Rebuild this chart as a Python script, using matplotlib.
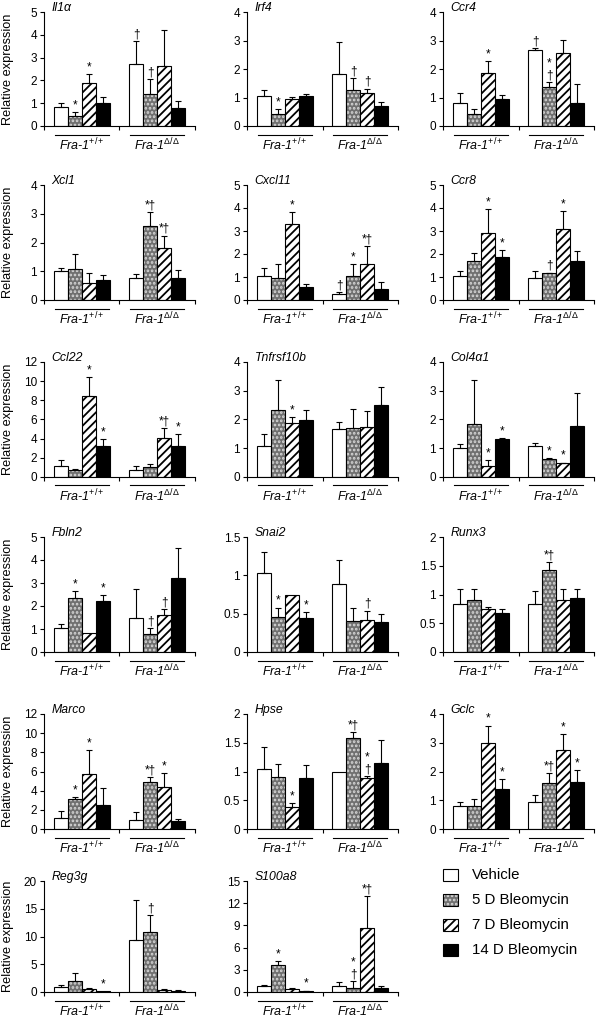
import matplotlib.pyplot as plt
from matplotlib.patches import Rectangle
import numpy as np

plt.rcParams['font.family'] = ['Liberation Sans', 'DejaVu Sans']
plt.rcParams['mathtext.fontset'] = 'custom'
plt.rcParams['mathtext.rm'] = 'Liberation Sans'
plt.rcParams['mathtext.it'] = 'Liberation Sans:italic'
plt.rcParams['hatch.linewidth'] = 1.3

genes = ['Il1α', 'Irf4', 'Ccr4', 'Xcl1', 'Cxcl11', 'Ccr8', 'Ccl22', 'Tnfrsf10b', 'Col4α1',
         'Fbln2', 'Snai2', 'Runx3', 'Marco', 'Hpse', 'Gclc', 'Reg3g', 'S100a8']
y_max = [5, 4, 4, 4, 5, 5, 12, 4, 4, 5, 1.5, 2, 12, 2, 4, 20, 15]
y_step = [1, 1, 1, 1, 1, 1, 2, 1, 1, 1, 0.5, 0.5, 2, 0.5, 1, 5, 3]
groups = [r'Fra-1$^{+/+}$', r'Fra-1$^{\Delta/\Delta}$']
treatments = ['Vehicle', '5 D Bleomycin', '7 D Bleomycin', '14 D Bleomycin']

# each row: Fra-1+/+ (Veh, 5D, 7D, 14D) then Fra-1Δ/Δ (Veh, 5D, 7D, 14D)
means = [
    [0.84, 0.45, 1.90, 0.99, 2.72, 1.42, 2.61, 0.81],
    [1.04, 0.42, 0.93, 1.04, 1.81, 1.28, 1.17, 0.70],
    [0.81, 0.43, 1.87, 0.96, 2.68, 1.37, 2.56, 0.81],
    [1.02, 1.07, 0.60, 0.70, 0.75, 2.57, 1.80, 0.75],
    [1.04, 0.94, 3.29, 0.58, 0.25, 1.04, 1.55, 0.48],
    [1.04, 1.71, 2.90, 1.88, 0.97, 1.16, 3.07, 1.71],
    [1.12, 0.70, 8.42, 3.26, 0.70, 1.05, 4.04, 3.26],
    [1.08, 2.32, 1.87, 1.99, 1.67, 1.70, 1.73, 2.51],
    [1.02, 1.84, 0.39, 1.31, 1.09, 0.62, 0.47, 1.78],
    [1.03, 2.36, 0.84, 2.21, 1.49, 0.79, 1.62, 3.22],
    [1.03, 0.46, 0.74, 0.45, 0.89, 0.41, 0.42, 0.39],
    [0.83, 0.90, 0.74, 0.67, 0.84, 1.42, 0.90, 0.94],
    [1.10, 3.10, 5.70, 2.50, 0.90, 4.90, 4.40, 0.80],
    [1.05, 0.90, 0.38, 0.88, 1.00, 1.58, 0.88, 1.15],
    [0.80, 0.80, 3.00, 1.40, 0.95, 1.60, 2.75, 1.65],
    [0.90, 2.00, 0.50, 0.10, 9.30, 10.9, 0.40, 0.20],
    [0.80, 3.60, 0.40, 0.15, 0.80, 0.50, 8.60, 0.50],
]
errors = [
    [0.17, 0.17, 0.36, 0.29, 1.02, 0.65, 1.61, 0.28],
    [0.24, 0.17, 0.09, 0.10, 1.15, 0.40, 0.14, 0.15],
    [0.35, 0.17, 0.40, 0.14, 0.04, 0.17, 0.47, 0.67],
    [0.08, 0.52, 0.33, 0.17, 0.14, 0.48, 0.44, 0.29],
    [0.37, 0.63, 0.55, 0.10, 0.11, 0.53, 0.80, 0.32],
    [0.24, 0.32, 1.04, 0.29, 0.29, 0.03, 0.80, 0.43],
    [0.70, 0.18, 2.00, 0.70, 0.42, 0.35, 1.05, 1.23],
    [0.41, 1.07, 0.21, 0.35, 0.24, 0.66, 0.55, 0.61],
    [0.13, 1.55, 0.19, 0.04, 0.10, 0.05, 0.03, 1.14],
    [0.20, 0.28, 0.00, 0.25, 1.23, 0.26, 0.23, 1.30],
    [0.27, 0.12, 0.00, 0.07, 0.31, 0.17, 0.12, 0.10],
    [0.27, 0.19, 0.05, 0.08, 0.22, 0.14, 0.19, 0.16],
    [0.80, 0.20, 2.50, 1.80, 0.90, 0.50, 1.40, 0.20],
    [0.37, 0.23, 0.07, 0.24, 0.00, 0.10, 0.04, 0.40],
    [0.15, 0.25, 0.60, 0.35, 0.25, 0.35, 0.55, 0.40],
    [0.30, 1.50, 0.30, 0.00, 7.20, 2.90, 0.20, 0.10],
    [0.20, 0.60, 0.20, 0.05, 0.60, 1.00, 4.40, 0.30],
]
marks = [
    ['', '*', '*', '', '†', '†', '', ''],
    ['', '*', '', '', '', '†', '†', ''],
    ['', '', '*', '', '†', '*\n†', '', ''],
    ['', '', '', '', '', '*†', '*†', ''],
    ['', '', '*', '', '†', '*', '*†', ''],
    ['', '', '*', '*', '', '†', '*', ''],
    ['', '', '*', '*', '', '', '*†', '*'],
    ['', '', '*', '', '', '', '', ''],
    ['', '', '*', '*', '', '*', '*', ''],
    ['', '*', '', '*', '', '†', '†', ''],
    ['', '*', '', '*', '', '', '†', ''],
    ['', '', '', '', '', '*†', '', ''],
    ['', '*', '*', '', '', '*†', '*', ''],
    ['', '', '*', '', '', '*†', '*\n†', ''],
    ['', '', '*', '*', '', '*†', '*', '*'],
    ['', '', '', '*', '', '†', '', ''],
    ['', '*', '', '*', '', '*\n†', '*†', ''],
]

# bar styles: vehicle, 5 D (dotted grey), 7 D (striped), 14 D (black)
def draw_bar(ax, x, h, w, kind):
    if kind == 0:
        ax.bar(x, h, w, color='white', edgecolor='black', linewidth=0.8, zorder=2)
    elif kind == 1:
        ax.bar(x, h, w, color='#6f6f6f', edgecolor='#d8d8d8', hatch='....', linewidth=0, zorder=2)
        ax.bar(x, h, w, fill=False, edgecolor='black', linewidth=0.8, zorder=2)
    elif kind == 2:
        ax.bar(x, h, w, color='white', edgecolor='black', hatch='////', linewidth=0.8, zorder=2)
    else:
        ax.bar(x, h, w, color='black', edgecolor='black', linewidth=0.8, zorder=2)


fig = plt.figure(figsize=(6, 10.18), dpi=100)
W, H = 600.0, 1018.0
col_left = [44, 247, 443]
row_top = [12, 185, 362, 537, 714, 881]
row_h = [114, 115, 115, 115, 115, 111]
ax_w = 151
bw = 0.185
centers = [0.5, 1.5]

for i, gene in enumerate(genes):
    r, c = divmod(i, 3)
    hh = row_h[r]
    ax = fig.add_axes([col_left[c] / W, 1 - (row_top[r] + hh) / H, ax_w / W, hh / H])
    for g in range(2):
        for k in range(4):
            j = g * 4 + k
            x = centers[g] + (k - 1.5) * bw
            m, e = means[i][j], errors[i][j]
            draw_bar(ax, x, m, bw, k)
            if e > 0:
                ax.errorbar(x, m, yerr=[[0], [e]], fmt='none', ecolor='black',
                            elinewidth=0.8, capsize=2.5, capthick=0.8, zorder=3)
            if marks[i][j]:
                ax.annotate(marks[i][j], (x, m + e), xytext=(0, 0.5), textcoords='offset points',
                            ha='center', va='bottom', fontsize=8.5, linespacing=0.95,
                            annotation_clip=False)
        tr = ax.get_xaxis_transform()
        ax.plot([centers[g] - 0.36, centers[g] + 0.36], [-8.5 / hh] * 2, color='black',
                lw=0.8, transform=tr, clip_on=False)
        ax.text(centers[g], -10.5 / hh, groups[g], transform=tr, ha='center', va='top',
                fontsize=9, style='italic')

    ax.set_xlim(0, 2)
    ax.set_ylim(0, y_max[i])
    ax.set_xticks([0, 1, 2])
    ax.set_xticklabels([])
    ax.set_yticks(np.arange(0, y_max[i] + y_step[i] / 2, y_step[i]))
    ax.yaxis.set_major_formatter(plt.FuncFormatter(lambda v, p: f'{v:g}'))
    ax.tick_params(direction='out', length=3, width=0.8, labelsize=8.5, pad=2)
    for s in ['top', 'right']:
        ax.spines[s].set_visible(False)
    for s in ['left', 'bottom']:
        ax.spines[s].set_linewidth(0.8)
    ax.text(0.05, 1.0 + 1.0 / hh, gene, transform=ax.transAxes, ha='left', va='baseline',
            fontsize=8.8, style='italic')
    if c == 0:
        ax.set_ylabel('Relative expression', fontsize=9.2)
        ax.yaxis.set_label_coords(-0.2, 0.5)

# legend drawn by hand in the empty bottom-right slot
lg = fig.add_axes([0, 0, 1, 1], facecolor='none')
lg.set_xlim(0, W)
lg.set_ylim(H, 0)
lg.axis('off')
for k, label in enumerate(treatments):
    yc = 875 + k * 25
    x0, y0, bwp, bhp = 443, yc - 6, 15, 12
    if k == 0:
        lg.add_patch(Rectangle((x0, y0), bwp, bhp, facecolor='white', edgecolor='black', lw=0.8))
    elif k == 1:
        lg.add_patch(Rectangle((x0, y0), bwp, bhp, facecolor='#6f6f6f', edgecolor='#d8d8d8',
                               hatch='....', lw=0))
        lg.add_patch(Rectangle((x0, y0), bwp, bhp, fill=False, edgecolor='black', lw=0.8))
    elif k == 2:
        lg.add_patch(Rectangle((x0, y0), bwp, bhp, facecolor='white', edgecolor='black',
                               hatch='////', lw=0.8))
    else:
        lg.add_patch(Rectangle((x0, y0), bwp, bhp, facecolor='black', edgecolor='black', lw=0.8))
    lg.text(472, yc, label, ha='left', va='center', fontsize=10.8)

fig.savefig('out.png', dpi=100)
